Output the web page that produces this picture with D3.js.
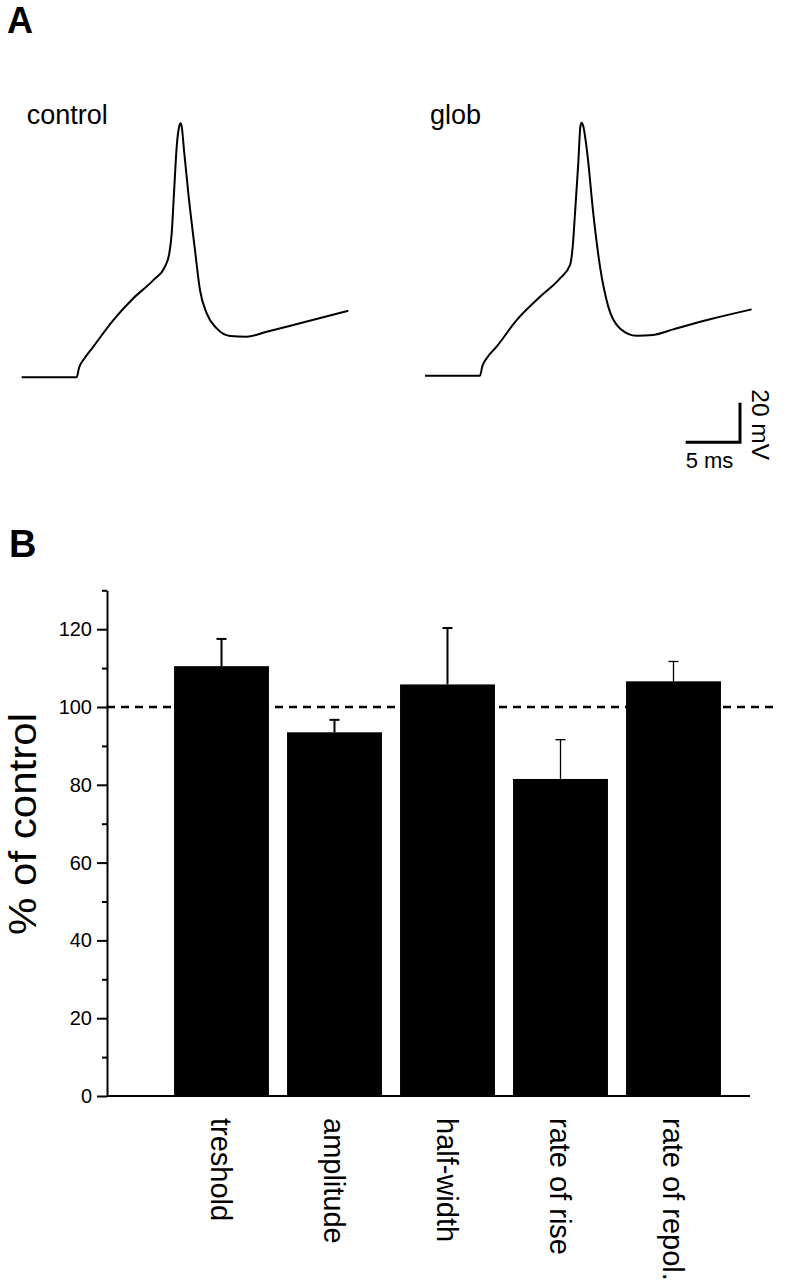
<!DOCTYPE html>
<html>
<head>
<meta charset="utf-8">
<script src="https://cdn.jsdelivr.net/npm/d3@7"></script>
<style>
  body { margin: 0; background: #fff; }
  svg { display: block; font-family: "Liberation Sans", Arial, sans-serif; }
</style>
</head>
<body>
<div id="chart"></div>
<script>
// panel A: action potential traces (time in ms, membrane potential in mV)
const controlT = [0, 5.06, 5.27, 5.73, 6.59, 8.43, 10.27, 12.11, 13.18, 13.58, 13.80, 14.01, 14.26, 14.50, 14.61, 14.72, 14.93, 15.33, 15.94, 16.40, 17.02, 17.94, 19.16, 20.70, 22.54, 25.60, 30.05];
const controlV = [-70, -70, -65.3, -60.8, -54.5, -41.1, -30.1, -20.9, -14.1, -7.4, 2.7, 22.9, 46.5, 56.9, 58.3, 56.7, 44.8, 22.9, -5.7, -25.9, -37.7, -45.3, -49.1, -49.5, -47.0, -42.7, -36.4];
const globT = [0, 5.06, 5.27, 5.73, 6.59, 8.43, 10.58, 12.42, 13.34, 13.59, 13.80, 14.10, 14.30, 14.41, 14.53, 14.93, 15.48, 16.10, 16.86, 17.94, 19.48, 21.00, 22.84, 26.22, 30.05];
const globV = [-69.2, -69.2, -64.5, -60.0, -54.5, -41.1, -29.3, -20.0, -13.3, -4.0, 12.8, 38.1, 56.9, 58.6, 57.4, 43.1, 12.8, -14.1, -34.3, -45.3, -49.0, -48.6, -45.8, -40.7, -35.7];
const scaleBarMs = 5;
const scaleBarMv = 20;

// panel B: % of control
const categories = ["treshold", "amplitude", "half-width", "rate of rise", "rate of repol."];
const values = [110.5, 93.5, 105.8, 81.5, 106.6];
const errors = [7.0, 3.2, 14.5, 10.1, 5.1];
const majorTicks = [0, 20, 40, 60, 80, 100, 120];
const minorTicks = [10, 30, 50, 70, 90, 110, 130];
const referenceLevel = 100;

const width = 787, height = 1280;
const svg = d3.select("#chart").append("svg")
    .attr("width", width)
    .attr("height", height)
    .attr("viewBox", [0, 0, width, height]);

// ---------- panel A ----------
svg.append("text")
    .attr("x", 7).attr("y", 33)
    .attr("font-size", 36).attr("font-weight", "bold")
    .text("A");

const yTrace = d3.scaleLinear().domain([-70, 60]).range([377.3, 377.3 - 130 * 1.98]);
const xControl = d3.scaleLinear().domain([0, 30]).range([21.7, 21.7 + 30 * 10.87]);
const xGlob = d3.scaleLinear().domain([0, 30]).range([425, 425 + 30 * 10.87]);

function drawTrace(ts, vs, x, label) {
    const pts = ts.map((t, i) => [t, vs[i]]);
    const line = d3.line()
        .x(d => x(d[0]))
        .y(d => yTrace(d[1]))
        .curve(d3.curveMonotoneX);
    svg.append("path")
        .attr("d", line(pts))
        .attr("fill", "none")
        .attr("stroke", "#000")
        .attr("stroke-width", 2)
        .attr("stroke-linejoin", "round");
    svg.append("text")
        .attr("x", x(0) + 5).attr("y", 124)
        .attr("font-size", 27)
        .text(label);
}
drawTrace(controlT, controlV, xControl, "control");
drawTrace(globT, globV, xGlob, "glob");

// scale bar, lengths taken from the trace scales
const sbX = 740, sbY = 442.3;
const sbW = xGlob(scaleBarMs) - xGlob(0);
const sbH = yTrace(0) - yTrace(scaleBarMv);
svg.append("path")
    .attr("d", `M${sbX - sbW},${sbY}H${sbX}V${sbY - sbH}`)
    .attr("fill", "none")
    .attr("stroke", "#000")
    .attr("stroke-width", 3);
svg.append("text")
    .attr("x", sbX - sbW).attr("y", sbY + 26)
    .attr("font-size", 22)
    .text(`${scaleBarMs} ms`);
svg.append("text")
    .attr("transform", `translate(${sbX + 12},${sbY - 53}) rotate(90)`)
    .attr("font-size", 24.5)
    .text(`${scaleBarMv} mV`);

// ---------- panel B ----------
svg.append("text")
    .attr("x", 9).attr("y", 557)
    .attr("font-size", 38).attr("font-weight", "bold")
    .text("B");

const y = d3.scaleLinear().domain([0, 130]).range([1096, 590.3]);
const x = d3.scaleBand()
    .domain(categories)
    .range([165, 730])
    .paddingInner(0.16)
    .paddingOuter(0.08);
const axisX = 107;

const bars = categories.map((c, i) => ({ name: c, value: values[i], err: errors[i], i }));

svg.append("g")
  .selectAll("rect")
  .data(bars)
  .join("rect")
    .attr("x", d => x(d.name))
    .attr("y", d => y(d.value))
    .attr("width", x.bandwidth())
    .attr("height", d => y(0) - y(d.value))
    .attr("fill", "#000");

// error bars (upper only)
const errG = svg.append("g").attr("stroke", "#000");
errG.selectAll("line.stem")
  .data(bars)
  .join("line")
    .attr("class", "stem")
    .attr("x1", d => x(d.name) + x.bandwidth() / 2)
    .attr("x2", d => x(d.name) + x.bandwidth() / 2)
    .attr("y1", d => y(d.value))
    .attr("y2", d => y(d.value + d.err))
    .attr("stroke-width", d => d.i < 3 ? 2 : 1.3);
errG.selectAll("line.cap")
  .data(bars)
  .join("line")
    .attr("class", "cap")
    .attr("x1", d => x(d.name) + x.bandwidth() / 2 - 5)
    .attr("x2", d => x(d.name) + x.bandwidth() / 2 + 5)
    .attr("y1", d => y(d.value + d.err))
    .attr("y2", d => y(d.value + d.err))
    .attr("stroke-width", d => d.i < 3 ? 2 : 1.3);

// dashed control level
svg.append("line")
    .attr("x1", axisX).attr("x2", 773)
    .attr("y1", y(referenceLevel)).attr("y2", y(referenceLevel))
    .attr("stroke", "#000")
    .attr("stroke-width", 2.6)
    .attr("stroke-dasharray", "8,6");

// y axis
const yAxis = svg.append("g")
    .attr("transform", `translate(${axisX},0)`)
    .call(d3.axisLeft(y).tickValues(majorTicks).tickSize(10).tickPadding(5).tickSizeOuter(0))
    .call(g => g.selectAll("text").attr("font-size", 20).attr("font-family", null).attr("fill", "#000"))
    .call(g => g.selectAll("line, path").attr("stroke", "#000").attr("stroke-width", 2));
yAxis.append("g")
    .call(d3.axisLeft(y).tickValues(minorTicks).tickSize(5).tickFormat(""))
    .call(g => g.select(".domain").remove())
    .call(g => g.selectAll("line").attr("stroke", "#000").attr("stroke-width", 2));

svg.append("text")
    .attr("transform", `translate(35.5,824) rotate(-90)`)
    .attr("text-anchor", "middle")
    .attr("font-size", 39)
    .attr("textLength", 222)
    .attr("lengthAdjust", "spacingAndGlyphs")
    .text("% of control");

// x axis baseline
svg.append("line")
    .attr("x1", axisX).attr("x2", 750)
    .attr("y1", y(0)).attr("y2", y(0))
    .attr("stroke", "#000")
    .attr("stroke-width", 2);

// category labels, rotated to read downward
svg.append("g")
  .selectAll("text")
  .data(bars)
  .join("text")
    .attr("transform", d => `translate(${x(d.name) + x.bandwidth() / 2},1118) rotate(90)`)
    .attr("dy", "0.35em")
    .attr("font-size", 29)
    .text(d => d.name);
</script>
</body>
</html>
